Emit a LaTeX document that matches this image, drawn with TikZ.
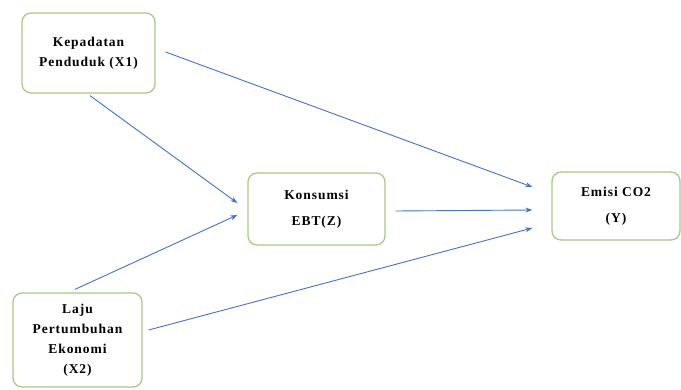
\documentclass[tikz,border=0pt]{standalone}
\usepackage{fontspec}
\setmainfont{Liberation Serif}[LetterSpace=7]
\usetikzlibrary{arrows.meta}
\definecolor{boxgreen}{HTML}{A9C88A}
\definecolor{arrowblue}{HTML}{4472C4}
\begin{document}
\begin{tikzpicture}[x=1pt,y=1pt,
  varbox/.style={draw=boxgreen, line width=1.3pt, rounded corners=9pt, fill=white,
    align=center, font=\fontsize{13.5}{20}\selectfont\bfseries, inner sep=0pt},
  wide/.style={font=\fontsize{13.5}{26}\selectfont\bfseries},
  link/.style={draw=arrowblue, line width=0.9pt, -{Stealth[length=7pt,width=5pt]}}]
\useasboundingbox (0,0) rectangle (681,389);
\node[varbox, minimum width=133pt, minimum height=80pt] (x1) at (88.5,336) {Kepadatan\\Penduduk (X1)};
\node[varbox, wide, minimum width=137pt, minimum height=72pt] (z) at (316.5,180) {Konsumsi\\EBT(Z)};
\node[varbox, wide, minimum width=128pt, minimum height=68pt] (y) at (616,183) {Emisi CO2\\(Y)};
\node[varbox, minimum width=129pt, minimum height=94pt] (x2) at (77.5,49) {Laju\\Pertumbuhan\\Ekonomi\\(X2)};
\draw[link] ([xshift=10pt,yshift=1pt]x1.east) -- ([xshift=-19pt,yshift=19pt]y.west);
\draw[link] ([xshift=1.5pt,yshift=-2pt]x1.south) -- ([xshift=-10pt,yshift=6pt]z.west);
\draw[link] ([xshift=-2.5pt,yshift=3pt]x2.north) -- ([xshift=-10pt,yshift=-6pt]z.west);
\draw[link] ([xshift=6pt,yshift=10pt]x2.east) -- ([xshift=-19pt,yshift=-22pt]y.west);
\draw[link] ([xshift=10pt,yshift=-2pt]z.east) -- ([xshift=-19pt,yshift=-4pt]y.west);
\end{tikzpicture}
\end{document}
